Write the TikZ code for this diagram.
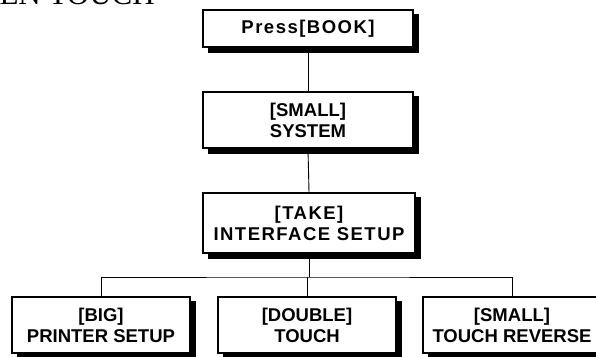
\documentclass[tikz,border=0pt]{standalone}
\usepackage{fontspec}
\setmainfont{Liberation Serif}
\newfontfamily\boxfont{Liberation Sans}
\newfontfamily\boxfontwide{Liberation Sans}[LetterSpace=8]
\usetikzlibrary{backgrounds}
\tikzset{
  menubox/.style={draw, line width=1.3pt, fill=white, align=center, inner sep=0pt,
    font=\boxfont\bfseries\fontsize{18.5}{21}\selectfont},
  link/.style={line width=0.9pt}
}
\begin{document}
\begin{tikzpicture}[x=1pt,y=-1pt]
		\useasboundingbox (0,0) rectangle (596,356);
		\node[anchor=base east, inner sep=0pt, font=\fontsize{31}{31}\selectfont] (title) at (155,5) {EN TOUCH};
		\node[menubox, minimum width=210pt, minimum height=37pt] (press) at (308,28.5) {\boxfontwide Press[BOOK]};
		\node[menubox, minimum width=210pt, minimum height=56pt] (system) at (308,120) {[SMALL]\\SYSTEM};
		\node[menubox, minimum width=212pt, minimum height=60pt] (take) at (309,223) {\boxfontwide [TAKE]\\\boxfontwide INTERFACE SETUP};
		\node[menubox, minimum width=178pt, minimum height=56pt] (printer) at (101,325) {[BIG]\\PRINTER SETUP};
		\node[menubox, minimum width=178pt, minimum height=56pt] (touch) at (307,325) {[DOUBLE]\\TOUCH};
		\node[menubox, minimum width=178pt, minimum height=56pt] (reverse) at (512,325) {[SMALL]\\TOUCH REVERSE};
		\begin{scope}[on background layer]
		\foreach \n in {press,system,take,printer,touch,reverse}
			\fill ([shift={(5.5,5)}]\n.south west) rectangle ([shift={(5.5,5)}]\n.north east);
		\end{scope}
		\coordinate (bus) at (309,277);
		\draw[link] (press.south) -- (system.north);
		\draw[link] (system.south) -- (take.north);
		\draw[link] (take.south) -- (bus);
		\draw[link] (printer.north) |- (bus) -| (reverse.north);
		\draw[link] (touch.north) -- (touch.north |- bus);
\end{tikzpicture}
\end{document}
